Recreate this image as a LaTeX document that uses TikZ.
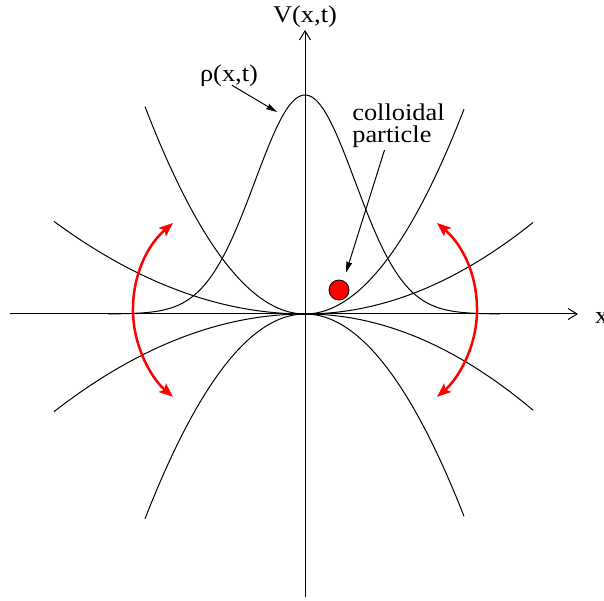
\documentclass[tikz,border=0pt]{standalone}
\usepackage{fontspec}
\setmainfont[FakeStretch=1.1]{Liberation Serif}
\usetikzlibrary{arrows.meta, positioning, calc}

\begin{document}
\begin{tikzpicture}[x=1pt, y=1pt,
    curve/.style={line width=1pt, samples=120, smooth},
    swing/.style={red, line width=2.5pt,
        {Stealth[length=14pt,width=11pt,inset=3pt]}-{Stealth[length=14pt,width=11pt,inset=3pt]}},
    pointer/.style={line width=1pt, -{Stealth[length=11pt,width=6pt,inset=1pt]}},
    lbl/.style={font=\fontsize{24}{22}\selectfont, inner sep=0pt}]
    \useasboundingbox (-305,-287) rectangle (299,314);
    % axes
    \coordinate (xl) at (-295,0);
    \coordinate (xr) at (273,0);
    \coordinate (yb) at (0,-283);
    \coordinate (yt) at (0,284);
    \draw[line width=1pt, -{Straight Barb[length=9pt,width=11pt]}] (xl) -- (xr);
    \draw[line width=1pt, -{Straight Barb[length=9pt,width=11pt]}] (yb) -- (yt);
    \node[lbl, anchor=base west] (xlab) at (290,-10) {x};
    \node[lbl, anchor=base] (vlab) at (0,291) {V(x,t)};
    % potentials
    \draw[curve] plot[domain=-160:159] (\x, {81*(\x/100)*(\x/100)});
    \draw[curve] plot[domain=-160:159] (\x, {-80*(\x/100)*(\x/100)});
    \draw[curve] plot[domain=-251:0] (\x, {14.7*(\x/100)*(\x/100)})
        -- plot[domain=0:228] (\x, {17.6*(\x/100)*(\x/100)});
    \draw[curve] plot[domain=-251:0] (\x, {-15.5*(\x/100)*(\x/100)})
        -- plot[domain=0:228] (\x, {-18.5*(\x/100)*(\x/100)});
    % density
    \draw[curve] plot[domain=-197:195] (\x, {219*exp(-(\x/70.7)*(\x/70.7))});
    % swinging
    \coordinate (swl) at (-132,91);
    \coordinate (swr) at (132,91);
    \draw[swing] (swl) arc[start angle=130.6, end angle=229.4, radius=114.5];
    \draw[swing] (swr) arc[start angle=49.4, end angle=-49.4, radius=114.5];
    % labels
    \node[lbl, anchor=base] (rho) at (-76,232) {ρ(x,t)};
    \coordinate (rtip) at (-28,202);
    \draw[pointer] ([xshift=3pt, yshift=2pt]rho.south) -- (rtip);
    \node[circle, draw, fill=red, minimum size=20pt, inner sep=0pt, line width=0.8pt] (ball) at (34,24) {};
    \node[lbl, align=left] (part) at (93.5,188) {colloidal\\particle};
    \draw[pointer] ([xshift=-14pt, yshift=-2pt]part.south) -- ([shift={(7pt,7pt)}]ball.north);
\end{tikzpicture}
\end{document}
